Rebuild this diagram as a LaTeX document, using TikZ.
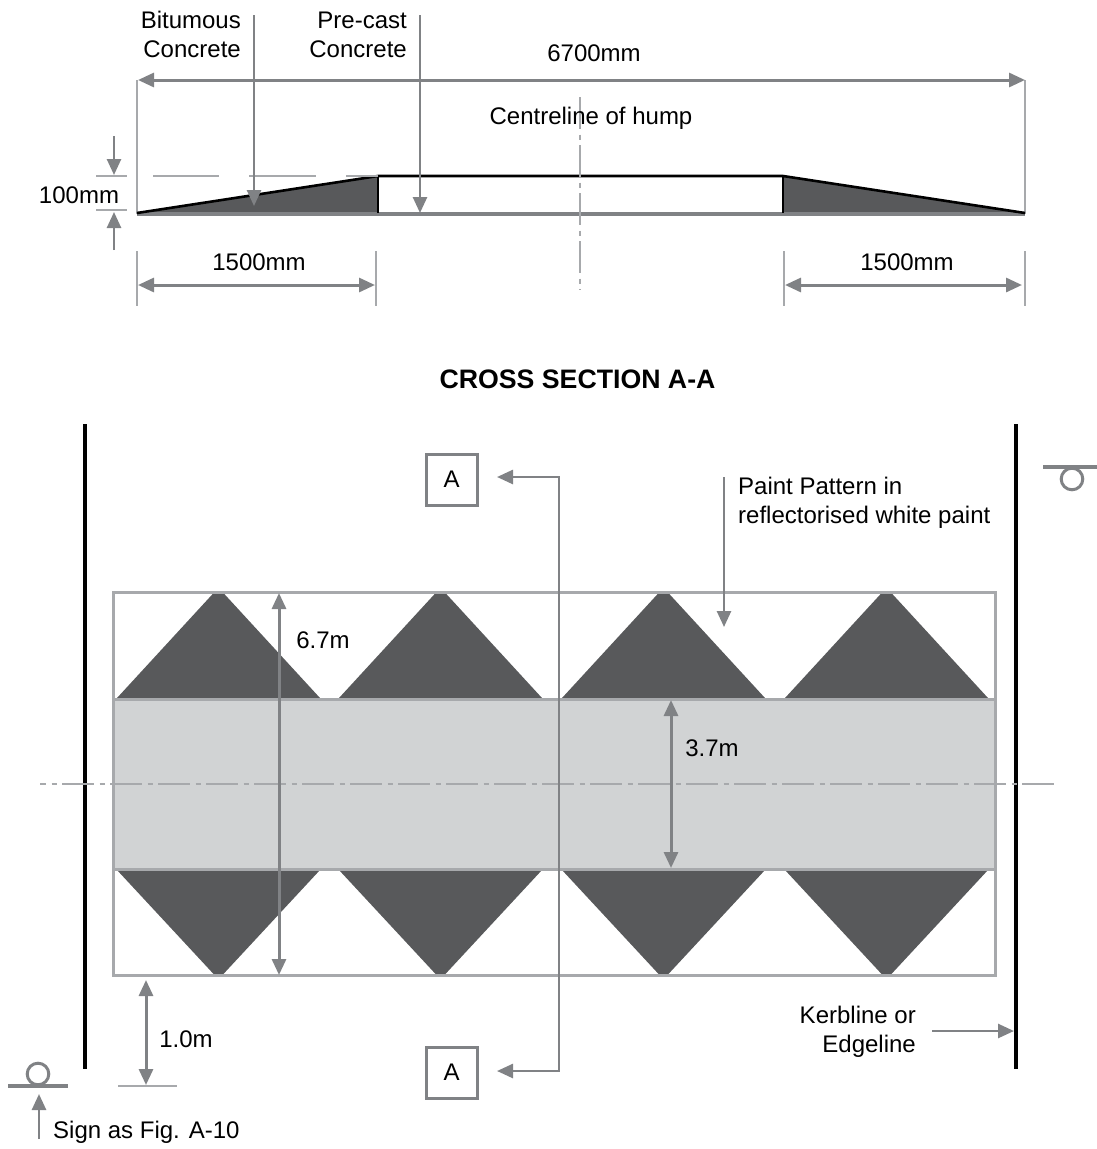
\documentclass[tikz,border=0pt]{standalone}
\usepackage{xcolor}
\usepackage{fontspec}
\setmainfont{Liberation Sans}
\usetikzlibrary{arrows.meta}
\definecolor{dimgrey}{HTML}{808285}
\definecolor{thingrey}{HTML}{A7A9AC}
\definecolor{paintgrey}{HTML}{58595B}
\definecolor{bandgrey}{HTML}{D1D3D4}
\tikzset{
    label/.style={font=\fontsize{24}{29}\selectfont, inner sep=0pt, text=black},
    dimline/.style={draw=dimgrey, line width=2.6pt, -{Triangle[length=16pt,width=14pt]}},
    dimboth/.style={draw=dimgrey, line width=3pt, {Triangle[length=16pt,width=14pt]}-{Triangle[length=16pt,width=14pt]}},
    thinline/.style={draw=thingrey, line width=2pt},
    axisline/.style={draw=thingrey, line width=2pt, dash pattern=on 32pt off 5.5pt on 5pt off 5.5pt},
    kerb/.style={draw=black, line width=4pt},
    sectionbox/.style={draw=dimgrey, line width=3pt, minimum size=51pt, inner sep=0pt, font=\fontsize{24}{29}\selectfont},
    signpost/.style={draw=dimgrey, line width=3pt}
}
\begin{document}
\begin{tikzpicture}[x=1pt,y=-1pt]
    \useasboundingbox (0,0) rectangle (1097,1149);

    % Cross section
    \fill [paintgrey] (137,213) -- (378,176) -- (378,213) -- cycle;
    \fill [paintgrey] (783,176) -- (1025,213) -- (783,213) -- cycle;
    \draw [thinline] (137,80) -- (137,214);
    \draw [thinline] (1025,80) -- (1025,214);
    \draw [dimgrey, line width=3.5pt] (137,214) -- (1025,214);
    \draw [black, line width=2.6pt] (137,213) -- (378,176) -- (783,176) -- (1025,213);
    \draw [black, line width=2.6pt] (378,176) -- (378,213);
    \draw [black, line width=2.6pt] (783,176) -- (783,213);

    % Datum ticks
    \draw [thinline] (96,176) -- (127,176);
    \draw [thinline] (96,210) -- (127,210);
    \draw [thinline] (153,176) -- (219,176);
    \draw [thinline] (249,176) -- (316,176);
    \draw [thinline] (346,176) -- (378,176);
    \draw [axisline] (580,97) -- (580,290);

    % Cross section dimensions
    \draw [dimboth] (138,80) -- (1025,80);
    \draw [dimline] (254,15) -- (254,206);
    \draw [dimline] (420,15) -- (420,213);
    \draw [dimline] (114,136) -- (114,175);
    \draw [dimline] (114,250) -- (114,212);
    \draw [thinline] (137,251) -- (137,306);
    \draw [thinline] (376,251) -- (376,306);
    \draw [thinline] (784,251) -- (784,306);
    \draw [thinline] (1025,251) -- (1025,306);
    \draw [dimboth] (138,285) -- (375,285);
    \draw [dimboth] (785,285) -- (1022,285);

    \node [label, align=right, anchor=east] (bitumous) at (241,34.5) {Bitumous\\Concrete};
    \node [label, align=right, anchor=east] (precast) at (407,35) {Pre-cast\\Concrete};
    \node [label] (overall) at (594,53) {6700mm};
    \node [label] (hump) at (591,118.5) {Centreline of hump};
    \node [label] (height) at (79,195) {100mm};
    \node [label] (rampl) at (259,262) {1500mm};
    \node [label] (rampr) at (907,262) {1500mm};
    \node [label, font=\fontsize{26.7}{29}\selectfont\bfseries] (title) at (577.5,379) {CROSS SECTION A-A};

    % Plan: kerblines
    \draw [kerb] (85,424) -- (85,1069);
    \draw [kerb] (1016,424) -- (1016,1069);

    % Plan: band and paint pattern
    \fill [bandgrey] (113,699) rectangle (995,869);
    \foreach \apex in {218.5,440.5,663.5,886.5} {
        \fill [paintgrey] (\apex-101.5,698) -- (\apex-4,592) -- (\apex+4,592) -- (\apex+101.5,698) -- cycle;
        \fill [paintgrey] (\apex-101.5,870) -- (\apex-4,975) -- (\apex+4,975) -- (\apex+101.5,870) -- cycle;
    }
    \draw [thingrey, line width=3pt] (113,592) rectangle (995,975);
    \draw [thingrey, line width=3pt] (113,699) -- (995,699);
    \draw [thingrey, line width=3pt] (113,869) -- (995,869);
    \draw [axisline, dash phase=26pt] (40,784) -- (1055,784);

    % Section line
    \node [sectionbox] (upper) at (451.5,479.5) {A};
    \node [sectionbox] (lower) at (451.5,1072.5) {A};
    \coordinate (uppertip) at (497,477);
    \coordinate (lowertip) at (497,1071);
    \draw [dimline] (559,477) -- (uppertip);
    \draw [dimline] (559,1071) -- (lowertip);
    \draw [dimgrey, line width=2.6pt] (559,476) -- (559,1072);

    % Plan dimensions
    \draw [dimline] (724,477) -- (724,627);
    \draw [dimboth] (279,593) -- (279,975);
    \draw [dimboth] (671,700) -- (671,868);
    \draw [dimboth] (146,980) -- (146,1085);
    \draw [thinline] (118,1086) -- (177,1086);
    \draw [dimline] (932,1031) -- (1014,1031);

    % Signs
    \draw [signpost, line width=3.5pt] (8,1086) -- (68,1086);
    \draw [signpost] (38,1074) circle (10.8);
    \draw [dimline] (39,1139) -- (39,1094);
    \draw [signpost, line width=3.5pt] (1043,467) -- (1097,467);
    \draw [signpost] (1072,479) circle (10.8);

    \node [label, align=left, anchor=west] (pattern) at (738,503) {Paint Pattern in\\reflectorised white paint};
    \node [label] (total) at (323,640) {6.7m};
    \node [label] (inner) at (712,748) {3.7m};
    \node [label] (offset) at (186,1039) {1.0m};
    \node [label, align=right, anchor=east] (kerbline) at (916,1032) {Kerbline or\\Edgeline};
    \node [label, anchor=west] (sign) at (53,1132.5) {Sign as Fig. A-10};
\end{tikzpicture}
\end{document}
